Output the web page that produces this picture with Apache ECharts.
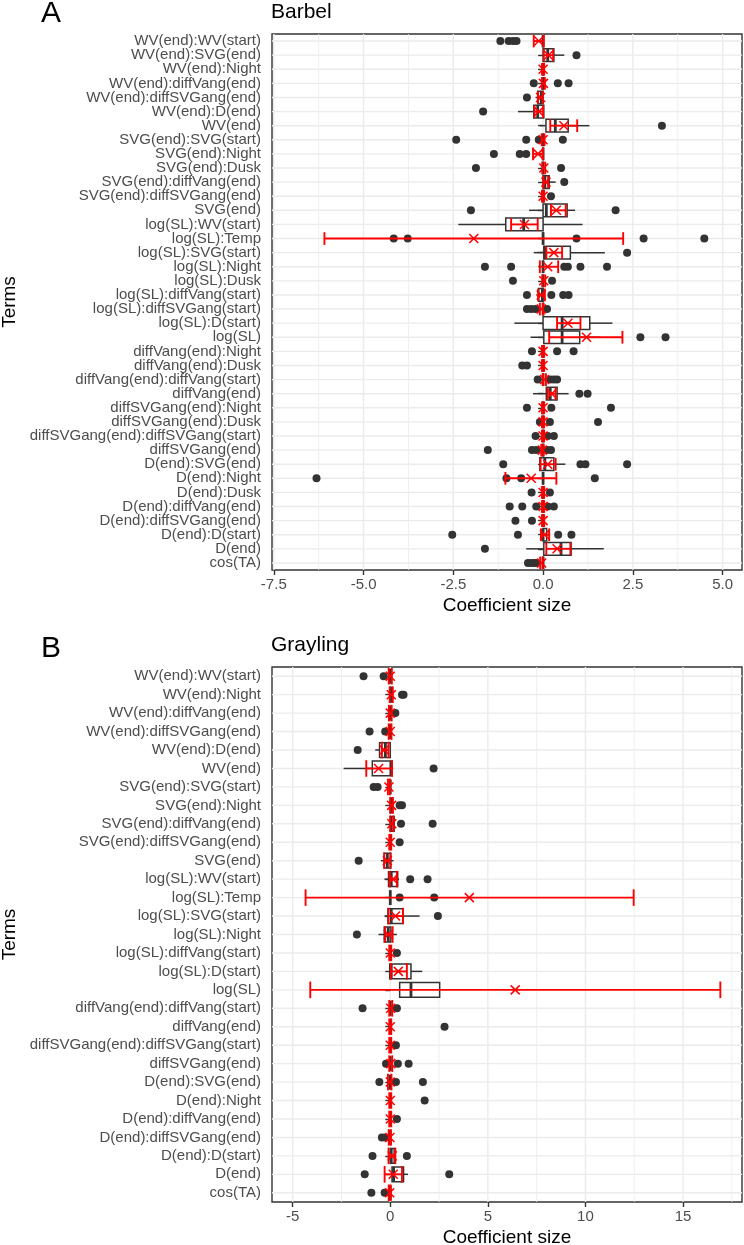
<!DOCTYPE html>
<html>
<head>
<meta charset="utf-8">
<script src="https://cdn.jsdelivr.net/npm/echarts@6/dist/echarts.min.js"></script>
<style>html,body{margin:0;padding:0;background:#fff}#c{width:744px;height:1245px}</style>
</head>
<body>
<div id="c"></div>
<script>
// ---------- Panel A: Barbel ----------
const termsA = [
  "WV(end):WV(start)","WV(end):SVG(end)","WV(end):Night","WV(end):diffVang(end)",
  "WV(end):diffSVGang(end)","WV(end):D(end)","WV(end)","SVG(end):SVG(start)",
  "SVG(end):Night","SVG(end):Dusk","SVG(end):diffVang(end)","SVG(end):diffSVGang(end)",
  "SVG(end)","log(SL):WV(start)","log(SL):Temp","log(SL):SVG(start)","log(SL):Night",
  "log(SL):Dusk","log(SL):diffVang(start)","log(SL):diffSVGang(start)","log(SL):D(start)",
  "log(SL)","diffVang(end):Night","diffVang(end):Dusk","diffVang(end):diffVang(start)",
  "diffVang(end)","diffSVGang(end):Night","diffSVGang(end):Dusk",
  "diffSVGang(end):diffSVGang(start)","diffSVGang(end)","D(end):SVG(end)","D(end):Night",
  "D(end):Dusk","D(end):diffVang(end)","D(end):diffSVGang(end)","D(end):D(start)",
  "D(end)","cos(TA)"
];
// box: [lower whisker, Q1, median, Q3, upper whisker]
const boxA = [
  [0,0,0,0,0],[0,0,0.13,0.30,0.59],[0,0,0,0,0],[0,0,0,0,0],
  [-0.21,-0.15,-0.05,0,0],[-0.70,-0.26,-0.15,0.02,0.02],[-0.09,0.08,0.34,0.70,1.29],[0,0,0,0,0],
  [0,0,0,0,0],[0,0,0,0,0],[0,0,0.05,0.17,0.35],[0,0,0,0,0],
  [-0.39,0,0.09,0.67,0.89],[-2.36,-1.04,-0.54,0,1.10],[0,0,0,0,0],[-0.26,0.02,0.06,0.76,1.72],[0,0,0,0,0],
  [0,0,0,0,0],[-0.19,-0.12,-0.02,0,0.02],[0,0,0,0,0],[-0.80,0,0.53,1.30,1.93],
  [-0.35,0.02,0.53,1.02,1.60],[0,0,0,0,0],[0,0,0,0,0],[0,0,0,0,0],
  [-0.28,0.09,0.20,0.39,0.71],[0,0,0,0,0],[0,0,0,0,0],
  [0,0,0,0,0],[0,0,0,0,0],[-0.09,-0.09,0.05,0.30,0.62],[0,0,0,0,0],
  [0,0,0,0,0],[0,0,0,0,0],[0,0,0,0,0],[0,0,0,0.10,0.15],
  [-0.47,0.02,0.50,0.78,1.69],[0,0,0,0,0]
];
const outA = [
  [-1.19,-0.96,-0.84,-0.74],[0.93],[],[-0.26,0.41,0.71],
  [-0.45],[-1.67],[3.31],[-2.42,-0.47,-0.12,0.55],
  [-1.37,-0.65,-0.47],[-1.87,0.50],[0.59],[0.22],
  [-2.01,2.02],[],[-4.16,-3.77,0.93,2.80,4.49],[2.34],[-1.62,-0.89,0.59,0.69,1.04,1.78],
  [-0.84,0.25],[-0.45,0.23,0.56,0.71],[-0.45,-0.33,-0.21,0.11],[],
  [2.71,3.41],[-0.31,0.39,0.85],[-0.58,-0.45],[-0.15,0.20,0.30,0.39],
  [1.01,1.24],[-0.45,0.23,1.89],[-0.09,0.19,1.53],
  [-0.21,0.13,0.30],[-1.54,-0.31,-0.19,0.11,0.22],[-1.11,1.04,1.18,2.34],[-6.31,-1.02,-0.61,1.44],
  [-0.32,0.19],[-0.93,-0.58,-0.19,0.13,0.30],[-0.77,-0.31],[-2.53,-0.70,0.42,0.79],
  [-1.62],[-0.42,-0.33,-0.24,-0.19]
];
// red: [CI low, mean, CI high]
const ciA = [
  [-0.26,-0.12,0.02],[0.02,0.15,0.28],[-0.03,0,0.03],[-0.03,0.01,0.05],
  [-0.14,-0.07,-0.01],[-0.24,-0.12,0],[0.20,0.58,0.95],[-0.04,0,0.04],
  [-0.28,-0.14,0],[-0.02,0.02,0.06],[0.01,0.08,0.14],[-0.03,0,0.03],
  [0.22,0.37,0.63],[-0.89,-0.52,-0.15],[-6.09,-1.93,2.23],[0.09,0.30,0.53],[-0.09,0.13,0.42],
  [-0.02,0.02,0.06],[-0.14,-0.05,0.05],[-0.09,-0.05,0],[0.39,0.69,1.04],
  [0.17,1.21,2.21],[-0.03,0,0.03],[-0.03,0,0.03],[0,0.04,0.08],
  [0.13,0.24,0.35],[-0.03,0,0.03],[-0.03,0,0.03],
  [-0.03,0,0.03],[-0.05,-0.02,0.01],[-0.07,0.13,0.35],[-1.05,-0.33,0.37],
  [-0.03,0,0.03],[-0.03,0,0.03],[-0.03,0,0.03],[-0.06,0.04,0.17],
  [0.09,0.39,0.76],[-0.08,-0.04,-0.01]
];
const ticksA = [-7.5,-5,-2.5,0,2.5,5];
const minorA = [-6.25,-3.75,-1.25,1.25,3.75];

// ---------- Panel B: Grayling ----------
const termsB = [
  "WV(end):WV(start)","WV(end):Night","WV(end):diffVang(end)","WV(end):diffSVGang(end)",
  "WV(end):D(end)","WV(end)","SVG(end):SVG(start)","SVG(end):Night","SVG(end):diffVang(end)",
  "SVG(end):diffSVGang(end)","SVG(end)","log(SL):WV(start)","log(SL):Temp","log(SL):SVG(start)",
  "log(SL):Night","log(SL):diffVang(start)","log(SL):D(start)","log(SL)",
  "diffVang(end):diffVang(start)","diffVang(end)","diffSVGang(end):diffSVGang(start)",
  "diffSVGang(end)","D(end):SVG(end)","D(end):Night","D(end):diffVang(end)",
  "D(end):diffSVGang(end)","D(end):D(start)","D(end)","cos(TA)"
];
const boxB = [
  [0,0,0,0,0],[0,0,0.03,0.08,0.10],[0,0,0,0,0],[0,0,0,0,0],
  [-0.77,-0.55,-0.25,0,0],[-2.39,-0.92,0.03,0.10,0.15],[0,0,0,0,0],[0,0,0.05,0.13,0.15],[0,0,0.05,0.20,0.22],
  [0,0,0,0,0],[-0.48,-0.31,-0.15,0.03,0.17],[-0.30,-0.09,0.05,0.38,0.45],[0,0,0,0,0],[-0.30,-0.12,0.05,0.65,1.50],
  [-0.60,-0.31,-0.10,0.03,0.34],[0,0,0,0,0],[-0.03,-0.03,0.05,1.06,1.64],[0.48,0.48,1.06,2.53,2.53],
  [0,0,0,0,0],[0,0,0,0,0],[0,0,0,0,0],
  [0,0,0,0,0],[0,0,0,0,0],[0,0,0,0,0],[0,0,0,0,0],
  [0,0,0,0,0],[0,0,0.05,0.20,0.22],[0,0.09,0.17,0.68,0.91],[0,0,0,0,0]
];
const outB = [
  [-1.37,-0.34],[0.60,0.68],[0.26],[-1.06,-0.26],
  [-1.67],[2.22],[-0.85,-0.65],[0.48,0.60],[0.55,2.17],
  [0.48],[-1.62],[1.02,1.91],[0.48,2.25],[2.44],
  [-1.71],[0.34],[],[],
  [-1.42,0.34],[2.78],[0.29],
  [-0.22,0.39,0.94],[-0.56,0.29,1.67],[1.76],[0.34],
  [-0.43,-0.26],[-0.91,0.85],[-1.31,3.02],[-0.97,-0.29]
];
const ciB = [
  [-0.08,0,0.08],[-0.03,0.05,0.13],[-0.07,0,0.07],[-0.08,0,0.06],
  [-0.43,-0.31,-0.09],[-1.23,-0.60,0.09],[-0.12,-0.07,-0.02],[0,0.07,0.13],[0,0.08,0.16],
  [-0.05,0,0.05],[-0.31,-0.15,0],[-0.03,0.14,0.34],[-4.34,4.05,12.47],[-0.09,0.27,0.65],
  [-0.26,-0.10,0.12],[-0.05,0,0.05],[0.03,0.41,0.85],[-4.10,6.40,16.91],
  [-0.05,0.02,0.10],[-0.05,0,0.05],[-0.05,0,0.05],
  [-0.05,0.03,0.10],[-0.12,0,0.06],[-0.05,0,0.05],[-0.05,0,0.05],
  [-0.08,-0.02,0.03],[-0.09,0.10,0.26],[-0.29,0.15,0.60],[-0.08,-0.03,0.02]
];
const ticksB = [-5,0,5,10,15];
const minorB = [-2.5,2.5,7.5,12.5,17.5];

// ---------- rendering ----------
const FONT = "'Liberation Sans', Arial, Helvetica, sans-serif";
const DARK = '#333333';

function vGridRender(params, api) {
  const cs = params.coordSys;
  const x = api.coord([api.value(0), 0])[0];
  const w = api.value(1);
  return {type:'line', shape:{x1:x, y1:cs.y, x2:x, y2:cs.y+cs.height},
    style:{stroke:'#ebebeb', lineWidth:w}, silent:true};
}
function hGridRender(params, api) {
  const cs = params.coordSys;
  const y = api.coord([0, api.value(0)])[1];
  return {type:'line', shape:{x1:cs.x, y1:y, x2:cs.x+cs.width, y2:y},
    style:{stroke:'#ebebeb', lineWidth:1.4}, silent:true};
}
function boxRender(frac) {
  return function (params, api) {
    const i = api.value(0);
    const lo = api.coord([api.value(1), i]), q1 = api.coord([api.value(2), i]),
          md = api.coord([api.value(3), i]), q3 = api.coord([api.value(4), i]),
          hi = api.coord([api.value(5), i]);
    const h = api.size([0, 1])[1] * frac;
    const y = q1[1];
    const st = {stroke: DARK, lineWidth: 1.5, fill: null};
    return {type:'group', children:[
      {type:'line', shape:{x1:lo[0], y1:y, x2:q1[0], y2:y}, style:st},
      {type:'line', shape:{x1:q3[0], y1:y, x2:hi[0], y2:y}, style:st},
      {type:'rect', shape:{x:q1[0], y:y-h/2, width:q3[0]-q1[0], height:h},
        style:{stroke: DARK, lineWidth: 1.5, fill:'#ffffff'}},
      {type:'line', shape:{x1:md[0], y1:y-h/2, x2:md[0], y2:y+h/2},
        style:{stroke: DARK, lineWidth: 2.8}}
    ]};
  };
}
function ciRender(frac) {
  return function (params, api) {
    const i = api.value(0);
    const a = api.coord([api.value(1), i]), m = api.coord([api.value(2), i]),
          b = api.coord([api.value(3), i]);
    const h = api.size([0, 1])[1] * frac;
    const y = a[1], s = 4.5;
    const st = {stroke:'#ff0000', lineWidth:1.9};
    return {type:'group', children:[
      {type:'line', shape:{x1:a[0], y1:y, x2:b[0], y2:y}, style:st},
      {type:'line', shape:{x1:a[0], y1:y-h/2, x2:a[0], y2:y+h/2}, style:st},
      {type:'line', shape:{x1:b[0], y1:y-h/2, x2:b[0], y2:y+h/2}, style:st},
      {type:'line', shape:{x1:m[0]-s, y1:y-s, x2:m[0]+s, y2:y+s}, style:{stroke:'#ff0000', lineWidth:1.5}},
      {type:'line', shape:{x1:m[0]-s, y1:y+s, x2:m[0]+s, y2:y-s}, style:{stroke:'#ff0000', lineWidth:1.5}}
    ]};
  };
}

function panelSeries(idx, terms, box, out, ci, major, minor, boxFrac, ciFrac) {
  const vData = major.map(v => [v, 1.4]).concat(minor.map(v => [v, 0.8]));
  const hData = terms.map((t, i) => [i]);
  const boxData = box.map((b, i) => [i].concat(b));
  const outData = [];
  out.forEach((arr, i) => arr.forEach(v => outData.push([v, i])));
  const ciData = ci.map((c, i) => [i].concat(c));
  return [
    {type:'custom', xAxisIndex:idx, yAxisIndex:idx, z:0, silent:true, renderItem:vGridRender,
      data:vData, encode:{x:0}},
    {type:'custom', xAxisIndex:idx, yAxisIndex:idx, z:0, silent:true, renderItem:hGridRender,
      data:hData, encode:{y:0}},
    {type:'custom', xAxisIndex:idx, yAxisIndex:idx, z:2, renderItem:boxRender(boxFrac),
      data:boxData, encode:{x:[1,2,3,4,5], y:0}},
    {type:'scatter', xAxisIndex:idx, yAxisIndex:idx, z:3, symbol:'circle', symbolSize:8,
      itemStyle:{color:DARK, opacity:1}, data:outData},
    {type:'custom', xAxisIndex:idx, yAxisIndex:idx, z:4, renderItem:ciRender(ciFrac),
      data:ciData, encode:{x:[1,2,3], y:0}}
  ];
}

function xAxisOpt(idx, min, max, ticks, fmt) {
  return {type:'value', gridIndex:idx, min:min, max:max,
    name:'Coefficient size', nameLocation:'middle', nameGap:26,
    nameTextStyle:{color:'#000', fontSize:19, fontFamily:FONT},
    axisLine:{show:false},
    axisTick:{show:true, length:5, customValues:ticks, lineStyle:{color:DARK, width:1.4}},
    axisLabel:{customValues:ticks, color:'#4d4d4d', fontSize:15, fontFamily:FONT, margin:7, formatter:fmt},
    splitLine:{show:false}};
}
function yAxisOpt(idx, terms) {
  return {type:'category', gridIndex:idx, data:terms, inverse:true,
    name:'Terms', nameLocation:'middle', nameGap:248,
    nameTextStyle:{color:'#000', fontSize:19, fontFamily:FONT},
    axisLine:{show:false},
    axisTick:{show:true, alignWithLabel:true, length:5, lineStyle:{color:DARK, width:1.4}},
    axisLabel:{interval:0, color:'#4d4d4d', fontSize:15, fontFamily:FONT, margin:11},
    splitLine:{show:false}};
}

const titleStyle = (fs) => ({color:'#000', fontSize:fs, fontWeight:'normal', fontFamily:FONT});
const option = {
  backgroundColor:'#ffffff',
  animation:false,
  title:[
    {text:'A', left:41, top:-1, padding:0, textStyle:titleStyle(30)},
    {text:'Barbel', left:271, top:2, padding:0, textStyle:titleStyle(21)},
    {text:'B', left:41, top:634, padding:0, textStyle:titleStyle(30)},
    {text:'Grayling', left:271, top:635, padding:0, textStyle:titleStyle(21)}
  ],
  grid:[
    {left:272, right:2, top:34, height:536, show:true, borderColor:DARK, borderWidth:1.4,
      backgroundColor:'#ffffff', outerBoundsMode:'none', containLabel:false},
    {left:272, right:2, top:667, height:535, show:true, borderColor:DARK, borderWidth:1.4,
      backgroundColor:'#ffffff', outerBoundsMode:'none', containLabel:false}
  ],
  xAxis:[
    xAxisOpt(0, -7.55, 5.54, ticksA, v => v.toFixed(1)),
    xAxisOpt(1, -6.06, 18.02, ticksB, v => String(v))
  ],
  yAxis:[yAxisOpt(0, termsA), yAxisOpt(1, termsB)],
  series: panelSeries(0, termsA, boxA, outA, ciA, ticksA, minorA, 0.9, 0.9)
    .concat(panelSeries(1, termsB, boxB, outB, ciB, ticksB, minorB, 0.8, 0.9))
};
const chart = echarts.init(document.getElementById('c'), null, {renderer:'canvas'});
chart.setOption(option);
</script>
</body>
</html>
